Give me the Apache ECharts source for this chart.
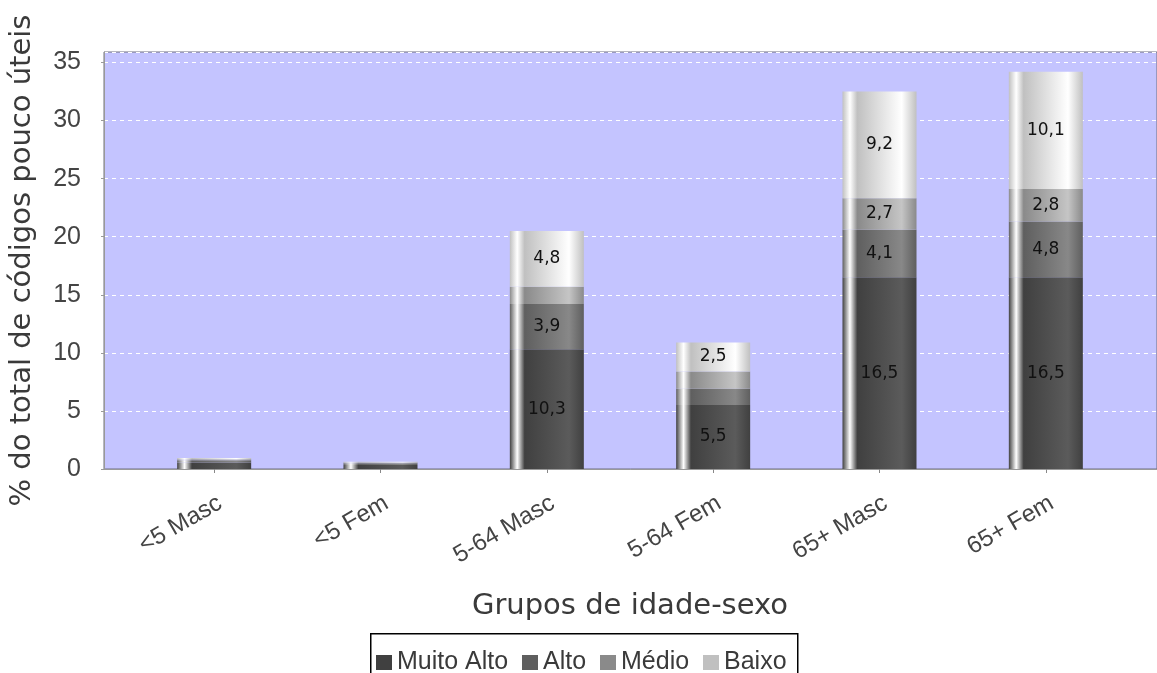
<!DOCTYPE html>
<html>
<head>
<meta charset="utf-8">
<script src="https://cdn.jsdelivr.net/npm/echarts@6/dist/echarts.min.js"></script>
<style>html,body{margin:0;padding:0;background:#fff}#c{width:1157px;height:673px}</style>
</head>
<body>
<div id="c"></div>
<script>
const categories = ['<5 Masc', '<5 Fem', '5-64 Masc', '5-64 Fem', '65+ Masc', '65+ Fem'];
const seriesNames = ['Muito Alto', 'Alto', 'Médio', 'Baixo'];
const muitoAlto = [0.55, 0.35, 10.3, 5.5, 16.5, 16.5];
const alto = [0.2, 0.15, 3.9, 1.4, 4.1, 4.8];
const medio = [0.1, 0.07, 1.5, 1.5, 2.7, 2.8];
const baixo = [0.1, 0.06, 4.8, 2.5, 9.2, 10.1];
const yMin = 0, yMax = 35.9, yStep = 5;

const baseColors = ['#404040', '#5f5f5f', '#8a8a8a', '#c0c0c0'];
const legendLefts = [376, 522, 600, 703];
function brighter(hex) {
  const v = parseInt(hex.slice(1, 3), 16);
  const b = Math.min(255, Math.round(v / 0.7));
  const h = b.toString(16).padStart(2, '0');
  return '#' + h + h + h;
}
function grad(c) {
  return {type: 'linear', x: 0, y: 0, x2: 1, y2: 0, colorStops: [
    {offset: 0, color: c}, {offset: 0.1, color: '#ffffff'}, {offset: 0.2, color: c},
    {offset: 0.8, color: brighter(c)}, {offset: 1, color: c}]};
}
const allData = [muitoAlto, alto, medio, baixo];
const series = seriesNames.map((n, i) => ({
  name: n, type: 'bar', stack: 'total', xAxisIndex: 0, yAxisIndex: 0,
  barWidth: 74, data: allData[i],
  itemStyle: {color: grad(baseColors[i])},
  label: {show: true, position: 'inside', color: '#111', fontFamily: 'DejaVu Sans', fontSize: 17,
    formatter: p => p.value >= 2 ? p.value.toFixed(1).replace('.', ',') : ''}
}));

const legends = seriesNames.map((n, i) => ({
  left: legendLefts[i], top: 650, orient: 'horizontal', padding: 0,
  itemWidth: 16, itemHeight: 15, itemGap: 0, icon: 'rect', z: 10,
  textStyle: {fontSize: 25, color: '#3a3a3a', fontFamily: 'Liberation Sans'},
  data: [{name: n, itemStyle: {color: baseColors[i]}}]
}));

const chart = echarts.init(document.getElementById('c'));
chart.setOption({
  animation: false,
  backgroundColor: '#ffffff',
  textStyle: {fontFamily: 'Liberation Sans'},
  grid: [
    {left: 131, right: 28, top: 52, bottom: 204},
    {left: 101, right: -2, top: 52, bottom: 204, show: true, backgroundColor: '#c4c4ff', borderColor: '#6e6e80', borderWidth: 1, z: 0}
  ],
  graphic: [{type: 'rect', left: 370, top: 633, z: 1,
    shape: {width: 427, height: 50}, style: {fill: '#fff', stroke: '#000', lineWidth: 1.5}}],
  xAxis: [
    {type: 'category', gridIndex: 0, data: categories, offset: 10,
      axisLine: {show: false}, axisTick: {show: true, alignWithLabel: true, length: 4, lineStyle: {color: '#888'}},
      axisLabel: {rotate: 30, fontSize: 24, color: '#444', margin: 12, interval: 0, verticalAlign: 'top'},
      name: 'Grupos de idade-sexo', nameLocation: 'middle', nameGap: 113,
      nameTextStyle: {fontFamily: 'DejaVu Sans', fontSize: 29, color: '#3a3a3a'}},
    {type: 'value', gridIndex: 1, offset: 10, min: 0, max: 1, axisLine: {show: true, lineStyle: {color: '#999'}},
      axisTick: {show: false}, axisLabel: {show: false}, splitLine: {show: false}}
  ],
  yAxis: [
    {type: 'value', gridIndex: 0, min: yMin, max: yMax, interval: yStep, show: false, splitLine: {show: false}},
    {type: 'value', gridIndex: 1, min: yMin, max: yMax, interval: yStep, offset: 10,
      axisLine: {show: true, lineStyle: {color: '#999'}},
      axisTick: {show: true, length: 3, lineStyle: {color: '#999'}},
      axisLabel: {fontSize: 25, color: '#444', margin: 13, showMaxLabel: false},
      splitLine: {show: true, lineStyle: {color: '#ffffff', type: [4, 4], width: 1}},
      name: '% do total de códigos pouco úteis', nameLocation: 'middle', nameGap: 57,
      nameTextStyle: {fontFamily: 'DejaVu Sans', fontSize: 29, color: '#3a3a3a'}}
  ],
  legend: legends,
  series: series
});
</script>
</body>
</html>
